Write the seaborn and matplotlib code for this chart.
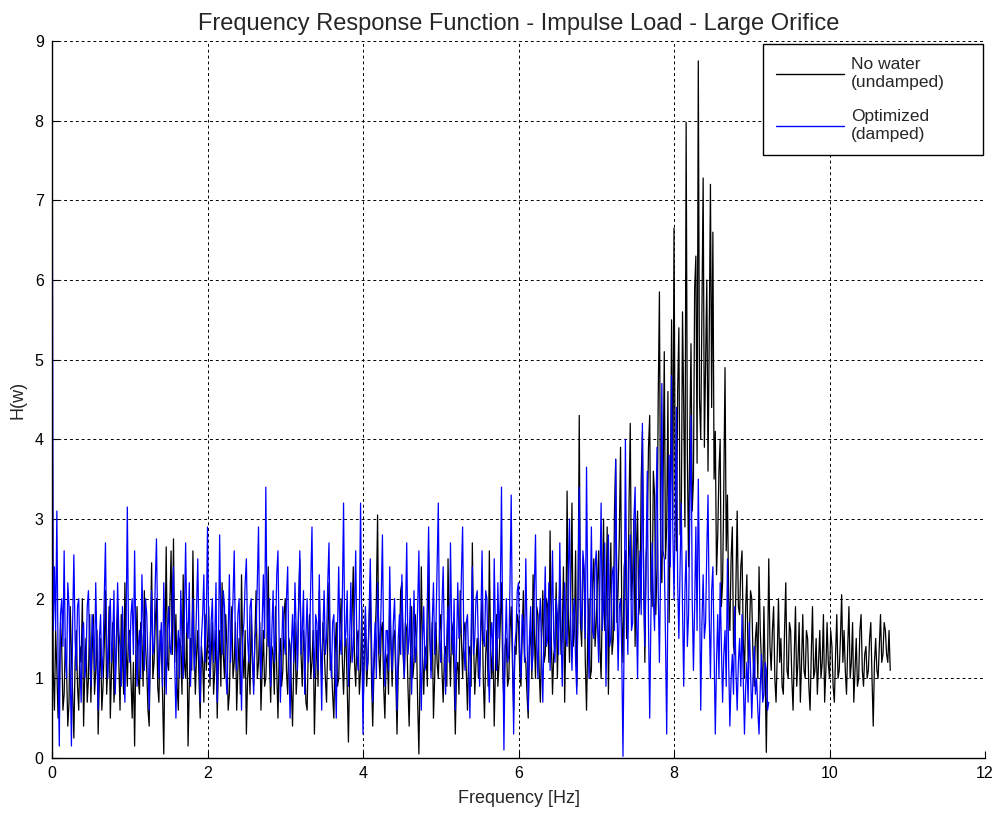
import numpy as np
import pandas as pd
import matplotlib
matplotlib.use("Agg")
import matplotlib.pyplot as plt
import seaborn as sns

# Frequency resolution of the FFT bins [Hz]
df_hz = 1.0 / 64.0

# |H(w)| without water (undamped), one row per 0.5 Hz, starting at 0 Hz
h_no_water = [
    5.25, 1.1, 0.6, 1.6, 1.1, 0.5, 0.9, 1.7, 1.4, 0.6, 0.8, 1.5, 1.1, 0.4, 0.7, 1.9, 1.3, 0.8, 0.25, 1.2, 1.6, 0.9, 0.6, 1.4, 1.2, 2.0, 0.4, 1.1, 1.5, 0.7, 1.0, 1.8,
    0.7, 1.3, 1.8, 0.8, 1.1, 1.6, 0.3, 1.0, 1.5, 0.6, 0.9, 1.4, 2.1, 0.8, 1.2, 1.9, 0.5, 1.1, 1.7, 0.7, 1.0, 1.5, 1.9, 1.2, 0.6, 1.8, 1.3, 0.8, 2.2, 1.4, 0.9, 1.6,
    1.6, 1.0, 0.5, 1.2, 0.15, 1.3, 1.9, 1.0, 0.8, 1.7, 1.5, 0.9, 2.1, 1.4, 1.1, 0.6, 0.4, 1.5, 2.45, 1.0, 1.2, 1.7, 2.0, 0.9, 0.7, 1.6, 1.4, 0.8, 0.05, 1.3, 2.65, 1.2,
    1.1, 1.9, 2.6, 1.3, 2.75, 1.2, 1.8, 0.9, 0.6, 1.5, 1.4, 0.8, 2.3, 1.2, 1.0, 1.7, 0.15, 0.9, 1.5, 1.1, 2.6, 1.4, 0.8, 1.3, 1.6, 1.0, 0.5, 1.4, 1.2, 0.7, 1.8, 1.1,
    1.4, 1.9, 0.9, 1.3, 1.7, 0.8, 1.1, 1.6, 0.5, 1.2, 1.6, 0.9, 2.2, 1.3, 1.0, 1.8, 1.4, 0.6, 0.8, 1.5, 1.9, 1.0, 1.2, 1.7, 0.6, 1.1, 1.5, 0.8, 2.3, 1.3, 1.0, 1.6,
    0.3, 1.0, 1.3, 0.8, 1.8, 1.2, 0.9, 1.5, 2.1, 1.0, 1.2, 1.7, 0.6, 1.1, 1.6, 0.9, 1.0, 1.5, 2.4, 1.2, 0.7, 1.4, 1.3, 0.8, 1.9, 1.1, 0.5, 1.3, 1.5, 0.9, 1.1, 1.8,
    2.0, 1.1, 0.8, 1.5, 1.4, 0.9, 0.4, 1.2, 1.7, 0.8, 1.1, 1.9, 2.5, 1.3, 0.9, 1.6, 1.3, 0.7, 0.6, 1.4, 1.8, 1.0, 1.2, 1.6, 0.3, 1.0, 1.6, 0.9, 2.1, 1.4, 1.0, 1.7,
    1.4, 1.0, 0.7, 1.5, 2.2, 1.1, 1.2, 0.8, 0.5, 1.3, 1.7, 0.9, 1.0, 1.6, 2.0, 1.2, 0.8, 1.4, 1.5, 0.9, 0.2, 1.1, 1.3, 1.8, 2.4, 1.2, 0.9, 1.5, 1.6, 0.8, 1.1, 1.9,
    0.6, 1.2, 1.8, 0.9, 1.2, 1.7, 2.2, 1.0, 0.4, 1.1, 1.5, 2.0, 3.05, 1.3, 1.0, 1.6, 1.7, 0.9, 0.5, 1.2, 1.3, 0.8, 2.0, 1.4, 0.9, 1.5, 1.6, 1.0, 0.3, 1.1, 1.4, 2.1,
    2.2, 1.3, 1.0, 1.7, 1.6, 0.9, 0.4, 1.2, 1.9, 1.0, 1.2, 1.8, 1.5, 0.7, 0.05, 1.1, 2.4, 1.3, 0.8, 1.4, 1.3, 0.9, 2.6, 1.5, 1.1, 1.7, 0.5, 1.0, 1.7, 1.2, 1.0, 1.6,
    1.8, 1.1, 0.7, 1.3, 1.4, 0.9, 2.5, 1.4, 0.9, 1.7, 1.6, 1.0, 0.3, 1.1, 1.2, 0.8, 2.1, 1.5, 1.0, 1.6, 1.7, 1.1, 0.6, 1.3, 1.4, 0.9, 2.7, 1.5, 0.8, 1.2, 1.5, 1.0,
    1.1, 1.6, 2.0, 1.0, 0.5, 1.3, 1.6, 0.9, 2.6, 1.4, 1.0, 1.5, 0.4, 1.1, 1.8, 0.9, 1.2, 1.7, 2.2, 1.1, 0.7, 1.4, 1.5, 0.9, 1.0, 1.6, 1.9, 1.2, 0.6, 1.4, 1.3, 1.8,
    1.7, 1.1, 0.9, 1.5, 2.1, 1.3, 1.2, 0.8, 0.5, 1.4, 1.6, 1.0, 2.3, 1.6, 1.0, 1.9, 1.8, 1.1, 0.7, 1.5, 2.1, 1.2, 1.3, 2.0, 1.9, 1.2, 2.85, 1.5, 0.8, 1.3, 1.4, 2.2,
    1.0, 1.7, 2.2, 1.3, 1.5, 2.4, 0.7, 1.6, 3.35, 1.8, 1.2, 2.0, 3.2, 1.4, 1.6, 2.6, 0.9, 1.9, 4.3, 1.7, 1.4, 2.5, 2.3, 1.2, 0.6, 1.5, 2.0, 1.0, 1.1, 2.2, 2.5, 1.4,
    1.7, 2.2, 2.6, 1.4, 1.0, 2.0, 3.0, 1.6, 1.8, 2.9, 0.8, 1.9, 2.7, 1.3, 1.5, 3.1, 3.75, 1.7, 2.1, 2.8, 3.9, 1.8, 1.2, 2.4, 2.6, 1.5, 1.6, 3.2, 4.2, 2.0, 2.3, 3.0,
    1.4, 2.6, 3.1, 1.8, 2.0, 3.5, 4.1, 2.3, 1.2, 2.5, 2.8, 3.9, 4.3, 2.1, 1.9, 3.6, 3.3, 1.8, 2.4, 4.5, 5.85, 2.6, 2.2, 3.4, 5.1, 2.5, 2.9, 4.6, 1.7, 3.2, 5.5, 3.0,
    6.65, 3.4, 2.6, 4.6, 5.4, 2.8, 3.0, 5.6, 4.4, 2.9, 7.98, 3.8, 2.4, 4.1, 5.2, 3.1, 3.5, 5.9, 6.3, 3.7, 8.75, 4.5, 4.0, 5.6, 7.28, 3.9, 5.0, 6.0, 3.6, 5.3, 7.2, 4.4,
    6.6, 3.5, 4.1, 2.3, 2.8, 3.6, 4.0, 1.9, 2.2, 3.4, 4.9, 2.6, 3.3, 2.0, 1.6, 2.5, 2.9, 1.4, 1.3, 2.2, 3.1, 1.9, 1.8, 2.4, 2.6, 1.5, 1.0, 1.9, 2.3, 1.2, 1.5, 2.1,
    2.0, 1.3, 0.9, 1.5, 1.7, 1.0, 2.4, 1.6, 1.2, 0.8, 1.9, 1.1, 0.07, 1.2, 2.5, 1.4, 1.1, 1.6, 1.9, 1.0, 0.7, 1.3, 2.0, 1.2, 1.5, 0.9, 0.8, 1.6, 2.2, 1.1, 1.0, 1.7,
    1.6, 1.0, 0.6, 1.3, 1.9, 0.9, 1.2, 1.7, 0.7, 1.2, 1.8, 1.1, 1.0, 1.6, 1.5, 0.9, 0.6, 1.3, 1.9, 1.0, 1.1, 1.5, 0.8, 1.2, 1.6, 1.0, 1.2, 1.8, 0.7, 1.1, 1.7, 1.2,
    1.0, 1.6, 1.4, 0.9, 0.7, 1.3, 1.8, 1.0, 1.1, 1.5, 2.05, 1.2, 1.6, 1.1, 0.8, 1.4, 1.9, 1.0, 1.2, 1.7, 0.7, 1.1, 1.5, 0.9, 1.0, 1.6, 1.8, 1.1, 0.9, 1.3, 1.4, 1.0,
    1.1, 1.5, 1.7, 1.0, 0.4, 1.2, 1.5, 1.1, 1.0, 1.4, 1.8, 1.2, 1.3, 1.7, 1.6, 1.3, 1.2, 1.6, 1.1,
]

# |H(w)| with the optimized damper, same bins
h_optimized = [
    9.6, 1.6, 2.4, 1.6, 3.1, 1.2, 0.15, 1.8, 2.0, 1.4, 2.6, 1.3, 1.0, 2.2, 1.9, 1.1, 0.15, 1.7, 2.55, 1.5, 1.1, 1.9, 2.0, 1.2, 0.7, 1.6, 1.7, 1.0, 1.2, 1.9, 2.1, 1.4,
    0.9, 1.8, 1.6, 1.1, 2.2, 1.4, 0.6, 1.5, 1.8, 1.0, 1.3, 2.0, 2.7, 1.4, 1.0, 1.7, 2.0, 1.2, 1.5, 2.1, 0.8, 1.3, 2.2, 1.6, 1.4, 0.9, 1.9, 1.3, 0.7, 1.6, 3.15, 1.5,
    1.2, 1.8, 2.0, 1.3, 2.6, 1.5, 0.9, 1.4, 1.6, 1.0, 2.3, 1.7, 1.1, 2.0, 1.8, 1.2, 0.6, 1.5, 2.1, 1.3, 1.4, 2.2, 2.75, 1.6, 1.0, 1.4, 1.7, 0.9, 2.2, 1.5, 0.8, 1.6,
    1.9, 1.4, 1.3, 2.0, 2.4, 1.2, 0.5, 1.3, 1.6, 1.0, 2.1, 1.5, 1.0, 1.8, 2.7, 1.6, 1.5, 2.2, 0.9, 1.4, 2.0, 1.1, 1.3, 1.9, 2.5, 1.4, 0.7, 1.5, 1.8, 2.3, 1.2, 1.7,
    2.9, 1.6, 1.0, 1.7, 2.0, 1.2, 1.5, 2.2, 0.7, 1.4, 2.8, 1.6, 1.3, 2.1, 1.9, 1.1, 0.8, 1.5, 2.3, 1.2, 1.6, 2.0, 2.6, 1.4, 1.1, 1.8, 2.0, 1.3, 0.6, 1.5, 1.7, 2.2,
    2.5, 1.5, 1.2, 1.9, 2.0, 1.3, 0.8, 1.5, 1.6, 2.2, 2.9, 1.4, 1.0, 1.7, 2.3, 1.5, 3.4, 1.8, 1.4, 2.0, 0.9, 1.6, 2.1, 1.2, 1.5, 2.3, 2.6, 1.4, 0.7, 1.3, 1.9, 1.5,
    1.3, 2.0, 2.4, 1.2, 0.5, 1.4, 1.8, 1.2, 2.2, 1.6, 1.1, 1.9, 2.6, 1.3, 1.6, 2.1, 0.8, 1.5, 2.0, 1.2, 1.4, 2.2, 2.9, 1.5, 1.0, 1.8, 1.7, 1.1, 2.3, 1.4, 0.6, 1.6,
    2.1, 1.3, 1.5, 2.2, 2.7, 1.4, 1.0, 1.7, 1.8, 1.1, 0.5, 1.6, 2.4, 1.5, 1.3, 2.0, 3.2, 1.4, 1.6, 2.1, 0.9, 1.5, 2.2, 1.2, 1.4, 1.9, 2.6, 1.3, 1.1, 1.8, 3.2, 1.6,
    0.3, 1.4, 1.9, 1.1, 1.2, 1.8, 2.5, 1.5, 0.7, 1.3, 1.7, 1.0, 2.2, 1.6, 1.3, 2.0, 2.8, 1.4, 0.9, 1.6, 1.6, 1.1, 2.4, 1.5, 1.1, 1.7, 2.0, 1.2, 0.6, 1.5, 1.8, 1.3,
    2.3, 1.5, 1.0, 1.8, 2.7, 1.3, 1.5, 2.0, 0.8, 1.4, 2.1, 1.2, 1.4, 1.9, 2.6, 1.3, 0.6, 1.5, 1.9, 1.1, 1.2, 2.0, 2.9, 1.6, 1.0, 1.7, 2.2, 1.3, 1.6, 2.4, 3.2, 1.5,
    1.2, 1.9, 2.4, 1.4, 0.8, 1.5, 1.9, 1.2, 2.7, 1.6, 1.3, 2.0, 0.6, 1.4, 2.2, 1.5, 1.6, 2.3, 2.9, 1.4, 1.1, 1.7, 1.8, 1.2, 0.5, 1.6, 2.4, 1.3, 1.5, 2.0, 2.1, 1.4,
    0.9, 1.7, 2.6, 1.5, 1.4, 2.1, 2.0, 1.2, 0.7, 1.5, 1.7, 1.1, 2.5, 1.6, 1.1, 2.2, 1.5, 2.0, 3.4, 1.6, 0.1, 1.4, 2.0, 1.2, 1.3, 2.2, 3.3, 1.5, 0.3, 1.4, 1.6, 2.1,
    2.2, 1.4, 1.0, 1.8, 1.7, 1.2, 2.5, 1.6, 0.6, 1.5, 1.9, 1.1, 1.3, 2.1, 2.8, 1.5, 1.0, 1.7, 2.0, 1.3, 0.7, 1.6, 2.4, 1.4, 1.5, 2.2, 1.1, 1.7, 2.6, 1.5, 1.2, 2.0,
    1.8, 1.3, 2.7, 1.6, 0.9, 1.7, 2.2, 1.5, 1.4, 2.3, 3.0, 1.7, 1.1, 1.8, 2.0, 1.2, 0.8, 2.1, 3.4, 1.9, 1.6, 2.6, 2.4, 1.5, 3.65, 2.0, 1.0, 1.8, 2.9, 1.6, 1.5, 2.4,
    2.6, 1.7, 1.2, 2.2, 3.2, 1.6, 1.9, 2.7, 0.9, 1.8, 2.8, 1.4, 1.5, 2.3, 2.4, 1.6, 3.75, 2.0, 1.1, 1.9, 2.0, 1.3, 0.02, 1.6, 4.0, 2.1, 1.3, 2.5, 2.8, 1.6, 1.7, 3.0,
    3.4, 1.9, 1.0, 2.2, 2.6, 1.8, 4.2, 2.3, 1.4, 2.5, 3.6, 1.7, 0.5, 1.8, 2.7, 2.0, 1.6, 2.9, 3.9, 2.1, 1.2, 2.4, 4.7, 2.6, 2.5, 1.5, 0.3, 2.0, 3.8, 2.4, 4.8, 2.9,
    2.0, 3.1, 4.4, 2.2, 1.5, 2.4, 3.2, 1.9, 0.9, 2.1, 2.6, 1.4, 1.8, 3.0, 4.3, 2.0, 1.1, 1.9, 2.9, 1.6, 3.5, 2.2, 0.6, 1.7, 2.3, 1.5, 1.7, 2.6, 3.3, 1.8, 1.0, 2.1,
    2.4, 1.3, 0.3, 1.2, 1.8, 1.0, 2.2, 1.4, 0.7, 1.3, 1.6, 0.9, 2.5, 1.2, 0.4, 1.0, 1.3, 0.8, 1.9, 1.1, 0.6, 1.2, 1.5, 0.9, 1.8, 1.0, 0.3, 0.9, 1.2, 0.7, 1.7, 1.1,
    0.5, 1.0, 1.4, 0.8, 1.0, 0.6, 0.3, 0.9, 1.3, 0.7, 0.8, 1.2, 1.1, 0.6, 0.7,
]

series_labels = ["No water\n(undamped)", "Optimized\n(damped)"]
series_colors = ["black", "#0000ff"]

x_ticks = [0, 2, 4, 6, 8, 10, 12]
y_ticks = [0, 1, 2, 3, 4, 5, 6, 7, 8, 9]

frames = []
for label, values in zip(series_labels, [h_no_water, h_optimized]):
    frames.append(pd.DataFrame({
        "Frequency": np.arange(len(values)) * df_hz,
        "H": values,
        "series": label,
    }))
data = pd.concat(frames, ignore_index=True)

sns.set_theme(style="white")
plt.rcParams["font.family"] = ["Liberation Sans", "DejaVu Sans"]

fig = plt.figure(figsize=(10.0, 8.16), dpi=100)
ax = fig.add_axes([0.052, 0.0711, 0.933, 0.8787])

for label, color in zip(series_labels, series_colors):
    sns.lineplot(data=data[data["series"] == label], x="Frequency", y="H",
                 color=color, linewidth=0.9, estimator=None, sort=False,
                 label=label, ax=ax)

ax.set_xlim(0, 12)
ax.set_ylim(0, 9)
ax.set_xticks(x_ticks)
ax.set_yticks(y_ticks)
ax.grid(True, color="black", linestyle=(0, (3, 3)), linewidth=0.7)
ax.set_axisbelow(True)
for side in ["top", "right"]:
    ax.spines[side].set_visible(False)
for side in ["left", "bottom"]:
    ax.spines[side].set_color("black")
    ax.spines[side].set_linewidth(1.0)
ax.tick_params(direction="in", length=5, width=0.8, colors="black",
               labelsize=11.5, pad=6, left=True, bottom=True)

ax.set_title("Frequency Response Function - Impulse Load - Large Orifice",
             fontsize=17, pad=8)
ax.set_xlabel("Frequency [Hz]", fontsize=13, labelpad=6)
ax.set_ylabel("H(w)", fontsize=13, labelpad=6)

leg = ax.legend(loc="upper left", bbox_to_anchor=(0.763, 0.8076, 0.220, 0.1384),
                bbox_transform=fig.transFigure, mode="expand", fontsize=12.5,
                frameon=True, fancybox=False, framealpha=1.0,
                edgecolor="black", handlelength=3.9, handletextpad=0.4,
                labelspacing=1.1, borderpad=0.75, borderaxespad=0)
leg.get_frame().set_linewidth(1.0)
for line in leg.get_lines():
    line.set_linewidth(1.0)
for text in leg.get_texts():
    text.set_linespacing(1.25)

fig.savefig("out.png", dpi=100, facecolor="white")
